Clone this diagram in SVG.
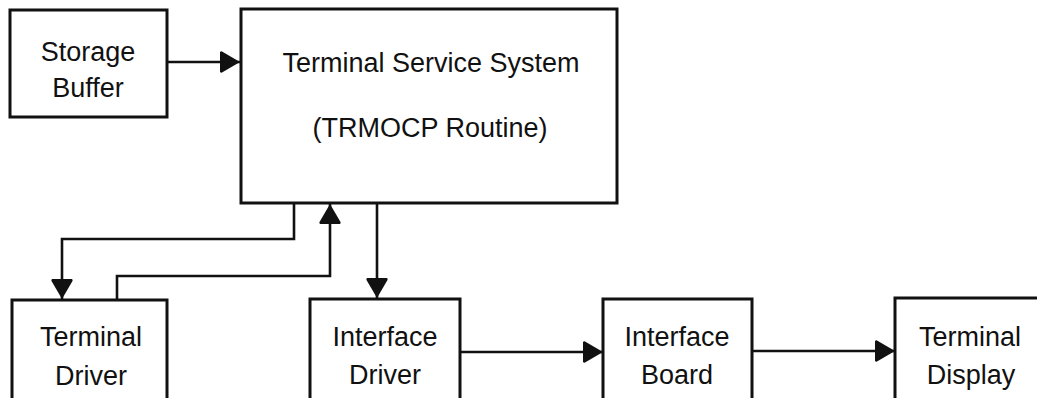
<svg xmlns="http://www.w3.org/2000/svg" width="1037" height="398" viewBox="0 0 1037 398">
<style>
.box{fill:#fff;stroke:#111;stroke-width:3}
.lbl{font-family:"Liberation Sans",Arial,sans-serif;font-size:27px;fill:#111;text-anchor:middle}
.con{fill:none;stroke:#111;stroke-width:2.6;stroke-linejoin:miter}
</style>
<defs>
<marker id="ah" markerUnits="userSpaceOnUse" markerWidth="22" markerHeight="24" refX="20" refY="11" orient="auto" viewBox="0 0 22 22">
<path d="M0,1 Q1,0 2,0.5 L20,11 L2,21.5 Q1,22 0,21 Z" fill="#111"/>
</marker>
</defs>
<rect width="1037" height="398" fill="#fff"/>
<g id="connectors">
<path class="con" d="M167,62 H240" marker-end="url(#ah)"/>
<path class="con" d="M294,203 V239 H62 V299" marker-end="url(#ah)"/>
<path class="con" d="M117,299 V276 H330 V204" marker-end="url(#ah)"/>
<path class="con" d="M377,203 V298" marker-end="url(#ah)"/>
<path class="con" d="M460,352 H603" marker-end="url(#ah)"/>
<path class="con" d="M752,351 H895" marker-end="url(#ah)"/>
</g>
<g id="storage-buffer">
<rect class="box" x="10" y="10" width="157" height="107"/>
<text class="lbl" x="88" y="61">Storage</text>
<text class="lbl" x="88" y="97">Buffer</text>
</g>
<g id="terminal-service-system">
<rect class="box" x="241" y="9" width="376" height="194"/>
<text class="lbl" x="431" y="72">Terminal Service System</text>
<text class="lbl" x="430" y="137">(TRMOCP Routine)</text>
</g>
<g id="terminal-driver">
<rect class="box" x="12" y="300" width="155" height="110"/>
<text class="lbl" x="91" y="346">Terminal</text>
<text class="lbl" x="91" y="385">Driver</text>
</g>
<g id="interface-driver">
<rect class="box" x="310" y="299" width="150" height="110"/>
<text class="lbl" x="385" y="346">Interface</text>
<text class="lbl" x="385" y="384">Driver</text>
</g>
<g id="interface-board">
<rect class="box" x="603" y="299" width="149" height="110"/>
<text class="lbl" x="677" y="346">Interface</text>
<text class="lbl" x="677" y="384">Board</text>
</g>
<g id="terminal-display">
<rect class="box" x="895" y="298" width="160" height="110"/>
<text class="lbl" x="970" y="346">Terminal</text>
<text class="lbl" x="971" y="384">Display</text>
</g>
</svg>
